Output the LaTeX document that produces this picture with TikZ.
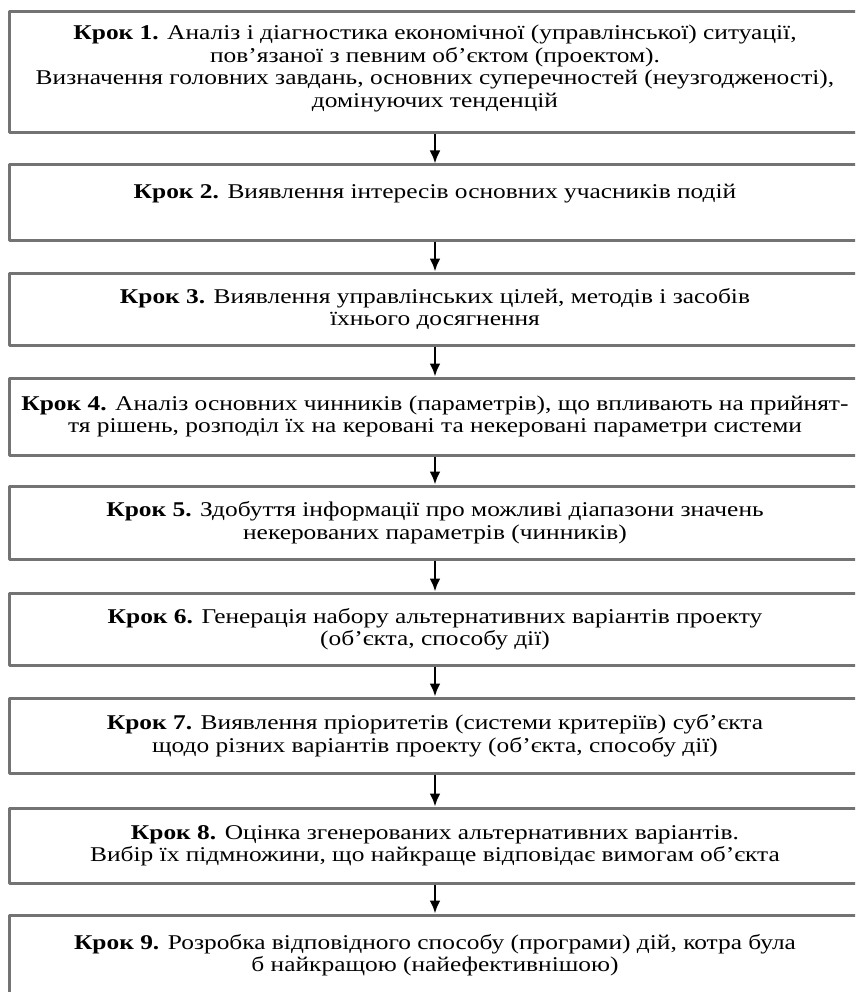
\documentclass[tikz,border=0pt]{standalone}
\usepackage{fontspec}
\setmainfont{Liberation Serif}[FakeStretch=1.21]
\usetikzlibrary{arrows.meta}
\definecolor{boxgray}{RGB}{115,115,115}
\begin{document}
\begin{tikzpicture}[x=1pt,y=-1pt,line join=round,>={Latex[length=13pt,width=11pt]},
  krok/.style={draw=boxgray,line width=3pt,minimum width=852pt,align=center,inner sep=0pt,
    font=\fontsize{21}{22.5}\selectfont},
  arr/.style={->,line width=2.5pt}]
  \clip (0,0) rectangle (855,992);
  \node[krok,minimum height=121pt] (k1) at (435,72.5) {\textbf{Крок 1.} Аналіз і діагностика економічної (управлінської) ситуації,\\
    пов’язаної з певним об’єктом (проектом).\\
    Визначення головних завдань, основних суперечностей (неузгодженості),\\
    домінуючих тенденцій\\[-10pt]\mbox{}};
  \node[krok,minimum height=75pt] (k2) at (435,202.5) {\textbf{Крок 2.} Виявлення інтересів основних учасників подій\\ \mbox{}};
  \node[krok,minimum height=72pt] (k3) at (435,309) {\textbf{Крок 3.} Виявлення управлінських цілей, методів і засобів\\
    їхнього досягнення};
  \node[krok,minimum height=77pt] (k4) at (435,416.5) {\textbf{Крок 4.} Аналіз основних чинників (параметрів), що впливають на прийнят-\\
    тя рішень, розподіл їх на керовані та некеровані параметри системи};
  \node[krok,minimum height=73pt] (k5) at (435,522.5) {\textbf{Крок 5.} Здобуття інформації про можливі діапазони значень\\
    некерованих параметрів (чинників)};
  \node[krok,minimum height=72pt] (k6) at (435,629) {\textbf{Крок 6.} Генерація набору альтернативних варіантів проекту\\
    (об’єкта, способу дії)};
  \node[krok,minimum height=75pt] (k7) at (435,735.5) {\textbf{Крок 7.} Виявлення пріоритетів (системи критеріїв) суб’єкта\\
    щодо різних варіантів проекту (об’єкта, способу дії)};
  \node[krok,minimum height=75pt] (k8) at (435,845.5) {\textbf{Крок 8.} Оцінка згенерованих альтернативних варіантів.\\
    Вибір їх підмножини, що найкраще відповідає вимогам об’єкта};
  \node[krok,minimum height=80pt] (k9) at (435,955) {\textbf{Крок 9.} Розробка відповідного способу (програми) дій, котра була\\
    б найкращою (найефективнішою)};
  \foreach \i in {1,...,8} {
      \pgfmathtruncatemacro{\j}{\i+1}
      \draw[arr] (k\i) -- (k\j);
    }
\end{tikzpicture}
\end{document}
